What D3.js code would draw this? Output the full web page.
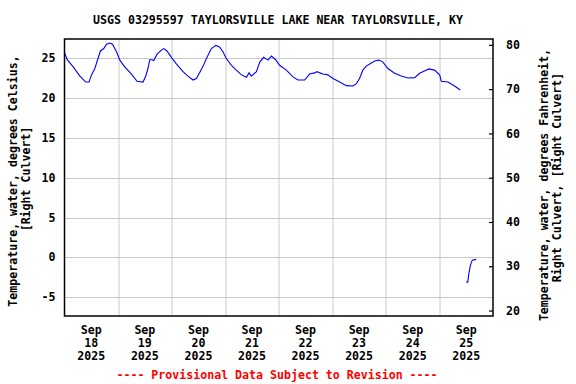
<!DOCTYPE html>
<html>
<head>
<meta charset="utf-8">
<script src="https://cdn.jsdelivr.net/npm/d3@7"></script>
<style>
  body { margin: 0; background: #fff; }
  text { font-family: "DejaVu Sans Mono", monospace; font-weight: bold; font-size: 11.6px; }
</style>
</head>
<body>
<div id="vis"></div>
<script>
// Constants
const W = 576, H = 384;
const margin = { top: 39, right: 83, bottom: 68, left: 64.5 };
const width = W - margin.left - margin.right;
const height = H - margin.top - margin.bottom;

// Data: hours since Sep 18 2025 00:00, water temperature in deg C (null = gap)
const hours = [
    0, 1.2, 3.9, 6.9, 9.5, 11.0, 12.1, 13.6, 15.0, 16.1, 17.6, 18.8, 20.3, 21.5, 23.3,
    24.8, 27.0, 30.0, 32.5, 35.2, 36.4, 37.4, 38.2, 39.0, 40.0, 41.5, 43.4, 44.5, 45.9, 47.9,
    50.2, 53.1, 55.3, 57.6, 59.1, 60.6, 62.1, 63.6, 65.8, 67.8, 69.5, 71.0, 72.5,
    74.8, 77.0, 79.3, 81.5, 82.7, 83.7, 86.0, 87.5, 89.2, 91.2, 92.7, 94.6, 96.4,
    99.4, 102.4, 104.6, 107.6, 109.8, 112.1, 113.1, 115.8, 118.0, 120.3,
    123.3, 126.3, 129.2, 130.8, 132.2, 133.7, 135.2, 137.5, 139.0, 140.9, 142.7, 144.9,
    147.9, 150.9, 153.9, 156.9, 159.1, 161.3, 163.3, 165.8, 168.1, 168.8, 171.8, 174.8, 177.3,
    178.5,
    180.0, 180.7, 181.2, 181.9, 182.7, 184.5
];
const tempC = [
    25.7, 24.8, 23.9, 22.75, 22.0, 22.0, 22.9, 23.7, 24.95, 25.9, 26.2, 26.75, 26.9, 26.75, 25.8,
    24.75, 23.9, 23.0, 22.1, 22.0, 22.75, 23.7, 24.8, 24.8, 24.7, 25.5, 26.0, 26.2, 25.9, 25.1,
    24.25, 23.3, 22.75, 22.25, 22.45, 23.2, 24.0, 24.95, 26.2, 26.6, 26.4, 25.8, 24.95,
    24.1, 23.5, 22.9, 22.6, 23.15, 22.75, 23.3, 24.5, 25.1, 24.75, 25.25, 24.8, 24.1,
    23.5, 22.65, 22.25, 22.25, 23.0, 23.15, 23.3, 23.0, 22.9, 22.45,
    22.0, 21.55, 21.5, 21.8, 22.45, 23.5, 24.0, 24.4, 24.65, 24.75, 24.5, 23.7,
    23.1, 22.75, 22.5, 22.55, 23.1, 23.4, 23.65, 23.5, 22.9, 22.1, 22.0, 21.5, 21.0,
    null,
    -3.1, -3.1, -2.0, -0.96, -0.34, -0.25
];

const tickDays = [18, 19, 20, 21, 22, 23, 24, 25];
const tickMonth = 'Sep';
const tickYear = 2025;
const celsiusTicks = [-5, 0, 5, 10, 15, 20, 25];
const fahrenheitTicks = [20, 30, 40, 50, 60, 70, 80];

const title = 'USGS 03295597 TAYLORSVILLE LAKE NEAR TAYLORSVILLE, KY';
const leftLabel = ['Temperature, water, degrees Celsius,', '[Right Culvert]'];
const rightLabel = ['Temperature, water, degrees Fahrenheit,', 'Right Culvert, [Right Culvert]'];
const footer = '---- Provisional Data Subject to Revision ----';

const t0 = Date.UTC(2025, 8, 18);
const data = hours.map((h, i) => ({ date: new Date(t0 + h * 3600e3), value: tempC[i] }));

const svgRoot = d3.select('#vis')
    .append('svg')
    .attr('width', W)
    .attr('height', H);

const svg = svgRoot.append('g')
    .attr('transform', `translate(${margin.left},${margin.top})`);

// Scales
const xScale = d3.scaleUtc()
    .domain([new Date(t0), new Date(Date.UTC(2025, 8, 26))])
    .range([0, width]);

const yScale = d3.scaleLinear()
    .domain([-7.35, 27.4])
    .range([height, 0]);

const yScaleF = d3.scaleLinear()
    .domain(yScale.domain().map(c => c * 9 / 5 + 32))
    .range([height, 0]);

// Grid
svg.append('g')
    .selectAll('line')
    .data(celsiusTicks)
    .join('line')
    .attr('x1', 0).attr('x2', width)
    .attr('y1', d => Math.round(yScale(d)) + 0.5)
    .attr('y2', d => Math.round(yScale(d)) + 0.5)
    .attr('stroke', '#c8c8c8');

svg.append('g')
    .selectAll('line')
    .data(tickDays.slice(1))
    .join('line')
    .attr('x1', d => Math.round(xScale(new Date(Date.UTC(tickYear, 8, d)))) + 0.5)
    .attr('x2', d => Math.round(xScale(new Date(Date.UTC(tickYear, 8, d)))) + 0.5)
    .attr('y1', 0).attr('y2', height)
    .attr('stroke', '#c8c8c8');

// Left axis labels
svg.append('g')
    .selectAll('text')
    .data(celsiusTicks)
    .join('text')
    .attr('x', -9)
    .attr('y', d => yScale(d) + 4)
    .attr('text-anchor', 'end')
    .text(d => d);

// Right axis (Fahrenheit)
const rightAxis = d3.axisRight(yScaleF)
    .tickValues(fahrenheitTicks)
    .tickSize(-4)
    .tickPadding(13);

svg.append('g')
    .attr('transform', `translate(${width},0)`)
    .call(rightAxis)
    .call(g => g.select('.domain').remove())
    .call(g => g.selectAll('line').attr('stroke', '#000').attr('stroke-width', 1.2))
    .call(g => g.selectAll('text')
        .attr('font-family', '"DejaVu Sans Mono", monospace')
        .attr('font-size', 11.6)
        .attr('font-weight', 'bold')
        .attr('fill', '#000'));

// Line
const line = d3.line()
    .defined(d => d.value !== null)
    .x(d => xScale(d.date))
    .y(d => yScale(d.value));

svg.append('path')
    .datum(data)
    .attr('fill', 'none')
    .attr('stroke', '#0000ff')
    .attr('stroke-width', 1.1)
    .attr('d', line);

// Frame
svg.append('rect')
    .attr('x', 0).attr('y', 0)
    .attr('width', width).attr('height', height)
    .attr('fill', 'none')
    .attr('stroke', '#000')
    .attr('stroke-width', 1.5);

// X labels (centered at noon)
const xLab = svg.append('g')
    .selectAll('text')
    .data(tickDays)
    .join('text')
    .attr('text-anchor', 'middle')
    .attr('transform', d => `translate(${xScale(new Date(Date.UTC(tickYear, 8, d, 12)))},0)`);

xLab.append('tspan').attr('x', 0).attr('y', height + 17.5).text(tickMonth);
xLab.append('tspan').attr('x', 0).attr('y', height + 30.5).text(d => d);
xLab.append('tspan').attr('x', 0).attr('y', height + 43.5).text(tickYear);

// Title
svgRoot.append('text')
    .attr('x', 278)
    .attr('y', 24)
    .attr('text-anchor', 'middle')
    .text(title);

// Footer
svgRoot.append('text')
    .attr('x', 277)
    .attr('y', 379)
    .attr('text-anchor', 'middle')
    .attr('fill', '#ff0000')
    .text(footer);

// Y axis titles (rotated)
const leftCenters = [181, 179];
const leftX = [16.5, 29.5];
leftLabel.forEach((s, i) => {
    svgRoot.append('text')
        .attr('transform', `translate(${leftX[i]},${leftCenters[i]}) rotate(-90)`)
        .attr('text-anchor', 'middle')
        .text(s);
});

const rightCenters = [185, 177.5];
const rightX = [548, 561];
rightLabel.forEach((s, i) => {
    svgRoot.append('text')
        .attr('transform', `translate(${rightX[i]},${rightCenters[i]}) rotate(-90)`)
        .attr('text-anchor', 'middle')
        .text(s);
});
</script>
</body>
</html>
